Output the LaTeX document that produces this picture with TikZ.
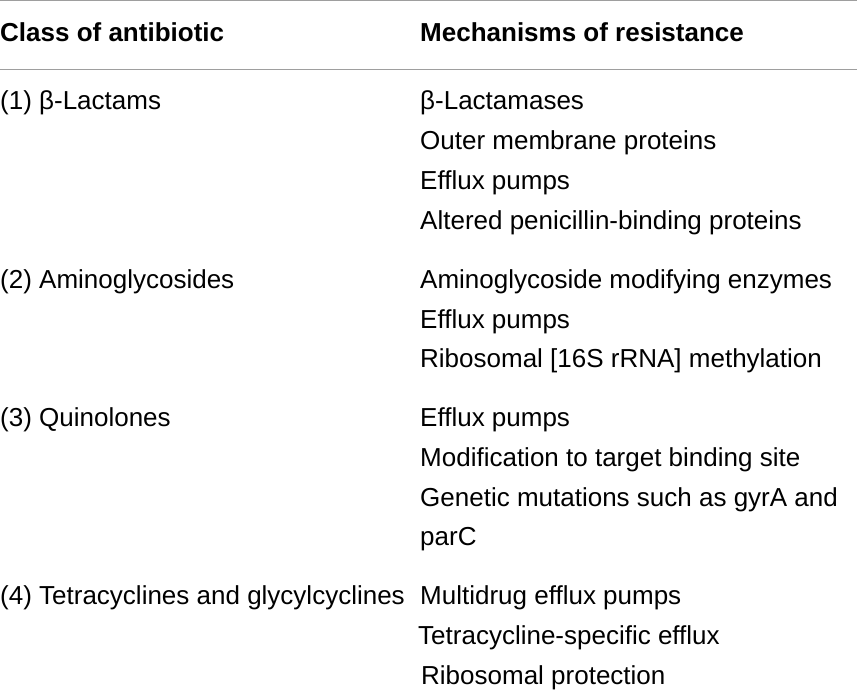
\documentclass[tikz,border=0pt]{standalone}
\usepackage{fontspec}
\setmainfont{Liberation Sans}
\begin{document}
\begin{tikzpicture}[x=1pt,y=-1pt,
  cell/.style={anchor=base west,inner sep=0pt,font=\fontsize{26}{30}\selectfont},
  head/.style={cell,font=\fontsize{26}{30}\selectfont\bfseries},
  rule/.style={draw=black!38,line width=1.3pt}]
\useasboundingbox (0,0) rectangle (857,689);
\coordinate (r1a) at (0,0.8);
\coordinate (r1b) at (857,0.8);
\coordinate (r2a) at (0,69.5);
\coordinate (r2b) at (857,69.5);
\draw[rule] (r1a) -- (r1b);
\draw[rule] (r2a) -- (r2b);
\node[head] (h1) at (0,41) {Class of antibiotic};
\node[head] (h2) at (420,41) {Mechanisms of resistance};
% row 1
\node[cell] (c1) at (0,109) {(1) β-Lactams};
\node[cell] (m11) at (420,109) {β-Lactamases};
\node[cell] (m12) at (420,149) {Outer membrane proteins};
\node[cell] (m13) at (420,189) {Efflux pumps};
\node[cell] (m14) at (420,229) {Altered penicillin-binding proteins};
% row 2
\node[cell] (c2) at (0,288) {(2) Aminoglycosides};
\node[cell] (m21) at (420,288) {Aminoglycoside modifying enzymes};
\node[cell] (m22) at (420,328) {Efflux pumps};
\node[cell] (m23) at (420,367) {Ribosomal [16S rRNA] methylation};
% row 3
\node[cell] (c3) at (0,426) {(3) Quinolones};
\node[cell] (m31) at (420,426) {Efflux pumps};
\node[cell] (m32) at (420,466) {Modification to target binding site};
\node[cell] (m33) at (420,506) {Genetic mutations such as gyrA and};
\node[cell] (m34) at (420,545) {parC};
% row 4
\node[cell] (c4) at (0,604) {(4) Tetracyclines and glycylcyclines};
\node[cell] (m41) at (420,604) {Multidrug efflux pumps};
\node[cell] (m42) at (418,644) {Tetracycline-specific efflux};
\node[cell] (m43) at (421,684) {Ribosomal protection};
\end{tikzpicture}
\end{document}
